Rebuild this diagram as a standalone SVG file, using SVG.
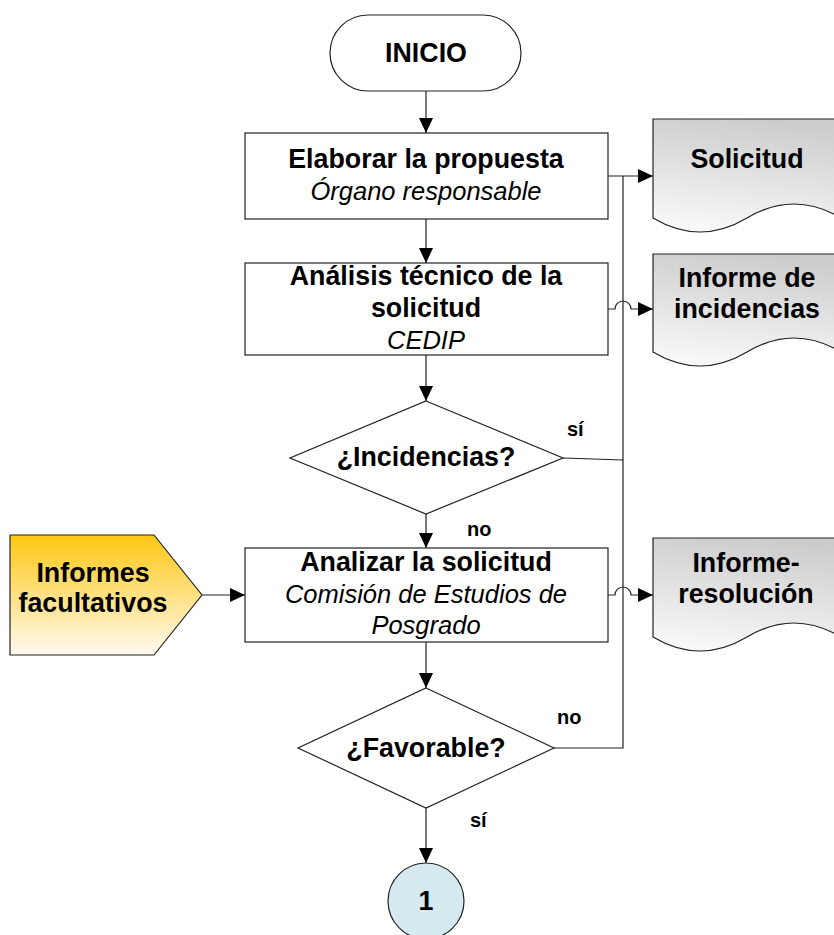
<svg xmlns="http://www.w3.org/2000/svg" width="834" height="935" viewBox="0 0 834 935">
<defs>
<style>
.shape{stroke:#222;stroke-width:1.2;}
.box{fill:#fff;}
.t{font-family:"Liberation Sans",Arial,sans-serif;font-size:26.8px;font-weight:bold;fill:#000;text-anchor:middle;}
.i{font-family:"Liberation Sans",Arial,sans-serif;font-size:25.5px;font-style:italic;fill:#000;text-anchor:middle;}
.lbl{font-family:"Liberation Sans",Arial,sans-serif;font-size:20px;font-weight:bold;fill:#000;}
.c{fill:none;stroke:#222;stroke-width:1.2;}
.doc{fill:url(#docGrad);}
</style>
<marker id="arr" markerUnits="userSpaceOnUse" markerWidth="16" markerHeight="16" viewBox="0 0 16 16" refX="15" refY="8" orient="auto">
<path d="M0,1 L15,8 L0,15 Z" fill="#000"/>
</marker>
<linearGradient id="docGrad" x1="0.6" y1="0" x2="0.4" y2="1">
<stop offset="0" stop-color="#cccccc"/>
<stop offset="1" stop-color="#f8f8f8"/>
</linearGradient>
<linearGradient id="yelGrad" x1="0" y1="0" x2="0" y2="1">
<stop offset="0" stop-color="#ffc712"/>
<stop offset="1" stop-color="#fffaf2"/>
</linearGradient>
</defs>

<g id="connectors">
<path class="c" d="M426,91 V133" marker-end="url(#arr)"/>
<path class="c" d="M426,219 V263" marker-end="url(#arr)"/>
<path class="c" d="M426,355 V401" marker-end="url(#arr)"/>
<path class="c" d="M426,514 V548" marker-end="url(#arr)"/>
<path class="c" d="M426,642 V688" marker-end="url(#arr)"/>
<path class="c" d="M426,808 V863" marker-end="url(#arr)"/>
<path class="c" d="M608,176 H653" marker-end="url(#arr)"/>
<path class="c" d="M608,309 H615 A8,8 0 0 1 631,309 H653" marker-end="url(#arr)"/>
<path class="c" d="M608,595 H615 A8,8 0 0 1 631,595 H653" marker-end="url(#arr)"/>
<path class="c" d="M202,595 H245" marker-end="url(#arr)"/>
<path class="c" d="M563,458 L623,460"/>
<path class="c" d="M554,748 H623 V176"/>
</g>

<g id="inicio">
<rect class="shape box" x="330" y="15" width="191" height="76" rx="38" ry="38"/>
<text class="t" x="426" y="62">INICIO</text>
</g>

<g id="elaborar">
<rect class="shape box" x="245" y="133" width="363" height="86"/>
<text class="t" x="426" y="168">Elaborar la propuesta</text>
<text class="i" x="426" y="200">Órgano responsable</text>
</g>

<g id="analisis">
<rect class="shape box" x="245" y="263" width="363" height="92"/>
<text class="t" x="426" y="285">Análisis técnico de la</text>
<text class="t" x="426" y="317">solicitud</text>
<text class="i" x="426" y="349">CEDIP</text>
</g>

<g id="incidencias">
<polygon class="shape box" points="426,401 563,458 426,514 290,458"/>
<text class="t" x="426" y="466">¿Incidencias?</text>
<text class="lbl" x="567" y="436">sí</text>
<text class="lbl" x="467" y="536">no</text>
</g>

<g id="analizar">
<rect class="shape box" x="245" y="548" width="363" height="94"/>
<text class="t" x="426" y="571">Analizar la solicitud</text>
<text class="i" x="426" y="603">Comisión de Estudios de</text>
<text class="i" x="426" y="634">Posgrado</text>
</g>

<g id="favorable">
<polygon class="shape box" points="426,688 554,748 426,808 298,748"/>
<text class="t" x="426" y="757">¿Favorable?</text>
<text class="lbl" x="557" y="724">no</text>
<text class="lbl" x="470" y="827">sí</text>
</g>

<g id="conector1">
<circle class="shape" cx="426" cy="901" r="38" fill="#d4e9f0"/>
<text class="t" x="426" y="910">1</text>
</g>

<g id="informes-facultativos">
<polygon class="shape" points="10,535 154,535 202,595 154,655 10,655" fill="url(#yelGrad)"/>
<text class="t" x="93" y="582">Informes</text>
<text class="t" x="93" y="612">facultativos</text>
</g>

<g id="solicitud">
<path class="shape doc" d="M653,119 H841 V218 Q794,190 747,218 Q700,246 653,218 Z"/>
<text class="t" x="747" y="168">Solicitud</text>
</g>

<g id="informe-incidencias">
<path class="shape doc" d="M653,254 H841 V352 Q794,324 747,352 Q700,380 653,352 Z"/>
<text class="t" x="747" y="287">Informe de</text>
<text class="t" x="747" y="318">incidencias</text>
</g>

<g id="informe-resolucion">
<path class="shape doc" d="M653,538 H841 V637 Q794,609 747,637 Q700,665 653,637 Z"/>
<text class="t" x="746" y="572">Informe-</text>
<text class="t" x="746" y="603">resolución</text>
</g>
</svg>
